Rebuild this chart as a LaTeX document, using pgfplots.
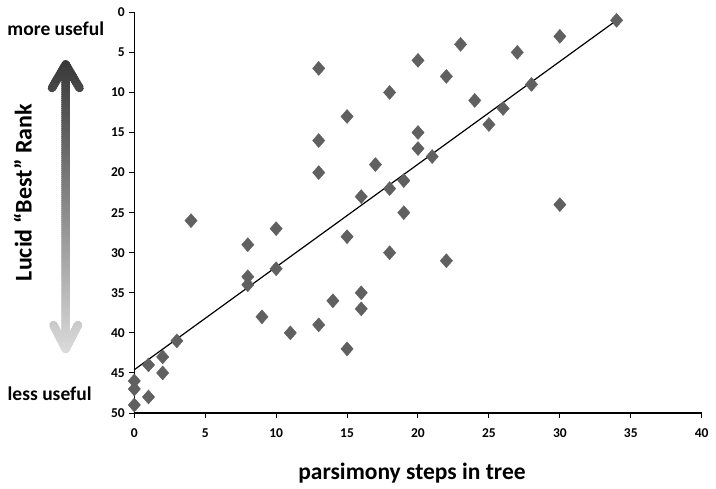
\documentclass[border=0pt]{standalone}
\usepackage{pgfplots}
\pgfplotsset{compat=1.18}
\usepackage{fontspec}
\setmainfont{Carlito}
\definecolor{mk}{RGB}{96,96,96}

\begin{document}
\begin{tikzpicture}
\begin{axis}[
  scale only axis, width=567.4pt, height=400.7pt,
  xmin=0, xmax=40, ymin=0, ymax=50,
  y dir=reverse,
  axis x line*=bottom, axis y line*=left,
  axis line style={line width=1.1pt},
  xtick={0,5,...,40}, ytick={0,5,...,50},
  tick align=outside, major tick length=5pt,
  tick style={line width=1pt, black},
  tick label style={font=\bfseries\fontsize{13.5}{15}\selectfont},
  xticklabel style={yshift=-7pt},
  yticklabel style={xshift=-1pt},
  /pgf/number format/assume math mode=true,
  clip=false,
]
% lucid rank vs. parsimony steps
\addplot[only marks, mark=diamond*, mark size=7pt, mk, mark options={draw=mk, fill=mk, xscale=1.17}] coordinates {
  (34,1)(30,3)(23,4)(27,5)(20,6)(13,7)(22,8)(28,9)(18,10)(24,11)
  (26,12)(15,13)(25,14)(20,15)(13,16)(20,17)(21,18)(17,19)(13,20)(19,21)
  (18,22)(16,23)(30,24)(19,25)(4,26)(10,27)(15,28)(8,29)(18,30)(22,31)
  (10,32)(8,33)(8,34)(16,35)(14,36)(16,37)(9,38)(13,39)(11,40)(3,41)
  (15,42)(2,43)(1,44)(2,45)(0,46)(0,47)(1,48)(0,49)};
% trend line
\addplot[black, line width=1.2pt] coordinates {(0,44.6)(34,1.0)};
\coordinate (O) at (axis cs:0,50);
\end{axis}

\begin{scope}[shift={(O)}, xshift=-134.3pt, yshift=-76pt, x=1pt, y=1pt]
% gradient double arrow, drawn in thin horizontal bands
\foreach \i in {0,...,146}{
  \pgfmathsetmacro{\ya}{136+2*\i}
  \pgfmathsetmacro{\yb}{\ya+2.2}
  \pgfmathsetmacro{\p}{14.5+63.9*\i/146}
  \begin{scope}
    \clip (30,\ya) rectangle (100,\yb);
    \draw[line width=8.5pt, line cap=round, line join=round, black!\p]
      (65.7,424.5) -- (65.7,140)
      (52,401) -- (65.7,424.5) -- (79.5,401)
      (53.5,164) -- (65.7,140) -- (78,164);
  \end{scope}
}

\node[anchor=base west, inner sep=0pt, font=\bfseries\fontsize{19.5}{22}\selectfont] at (7.3,453) {more useful};
\node[anchor=base west, inner sep=0pt, font=\bfseries\fontsize{19.5}{22}\selectfont] at (7.5,88.3) {less useful};
\node[anchor=base, inner sep=0pt, rotate=90, font=\bfseries\fontsize{24}{28}\selectfont] at (31.7,296.5) {Lucid “Best” Rank};
\node[anchor=base, inner sep=0pt, font=\bfseries\fontsize{23.5}{28}\selectfont] at (412,9) {parsimony steps in tree};

\pgfresetboundingbox
\useasboundingbox (0,0) rectangle (716,489);
\end{scope}
\end{tikzpicture}
\end{document}
